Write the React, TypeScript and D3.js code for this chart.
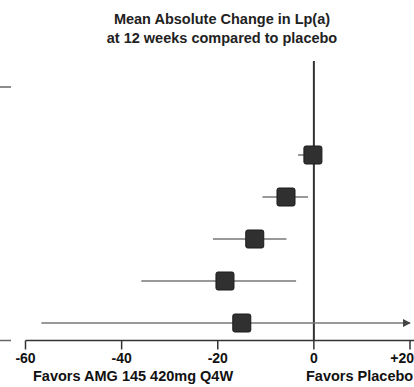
import React from "react";
import * as d3 from "d3";

const rows = ["r1", "r2", "r3", "r4", "r5"];
const means = [-0.2, -5.8, -12.3, -18.5, -15];
const lows = [-3.3, -10.7, -21, -35.9, -56.7];
const highs = [0.6, -1.2, -5.7, -3.7, 20];
const arrowRight = [false, false, false, false, true];
const ticks = [-60, -40, -20, 0, 20];
const tickLabels = ["-60", "-40", "-20", "0", "+20"];
const titleLines = ["Mean Absolute Change in Lp(a)", "at 12 weeks compared to placebo"];

export default function App() {
  const W = 414, H = 387;
  const x = d3.scaleLinear().domain([-60, 20]).range([25.5, 410]);
  const y = d3.scalePoint<string>().domain(rows).range([155, 323]);
  const axisY = 340.5;
  const font = "'Liberation Sans', Arial, sans-serif";
  const sq = 18;
  return (
    <svg width={W} height={H} style={{ position: "absolute", left: 0, top: 0, background: "#fff" }}>
      <defs>
        <marker id="arr" viewBox="0 0 10 10" refX="9" refY="5" markerWidth="8" markerHeight="8" orient="auto" markerUnits="userSpaceOnUse">
          <path d="M0,0 L10,5 L0,10 z" fill="#444" />
        </marker>
      </defs>
      {titleLines.map((t, i) => (
        <text key={i} x={222} y={24 + i * 18.5} textAnchor="middle" fontFamily={font} fontWeight="bold" fontSize={14.5} fill="#222">{t}</text>
      ))}
      <line x1={0} x2={11} y1={87} y2={87} stroke="#666" strokeWidth={1.5} />
      <line x1={0} x2={11} y1={axisY} y2={axisY} stroke="#666" strokeWidth={1.5} />
      <line x1={x(0)} x2={x(0)} y1={61} y2={axisY} stroke="#333" strokeWidth={2} />
      <line x1={x(-60)} x2={W} y1={axisY} y2={axisY} stroke="#333" strokeWidth={1.5} />
      {ticks.map((t, i) => (
        <g key={t}>
          <line x1={x(t)} x2={x(t)} y1={axisY} y2={axisY + 9} stroke="#333" strokeWidth={1.5} />
          <text x={i === ticks.length - 1 ? 414 : x(t)} y={363} textAnchor={i === ticks.length - 1 ? "end" : "middle"} fontFamily={font} fontWeight="bold" fontSize={14} fill="#111">{tickLabels[i]}</text>
        </g>
      ))}
      <text x={33} y={381} fontFamily={font} fontWeight="bold" fontSize={14.5} fill="#111">Favors AMG 145 420mg  Q4W</text>
      <text x={306} y={381} fontFamily={font} fontWeight="bold" fontSize={14.5} fill="#111">Favors Placebo</text>
      {rows.map((r, i) => {
        const cy = y(r)!;
        return (
          <g key={r}>
            <line x1={x(lows[i])} x2={x(highs[i])} y1={cy} y2={cy} stroke="#777" strokeWidth={1.5} markerEnd={arrowRight[i] ? "url(#arr)" : undefined} />
            <rect x={x(means[i]) - sq / 2} y={cy - sq / 2} width={sq} height={sq} rx={2} fill="#303030" stroke="#1a1a1a" strokeWidth={1} />
          </g>
        );
      })}
    </svg>
  );
}
